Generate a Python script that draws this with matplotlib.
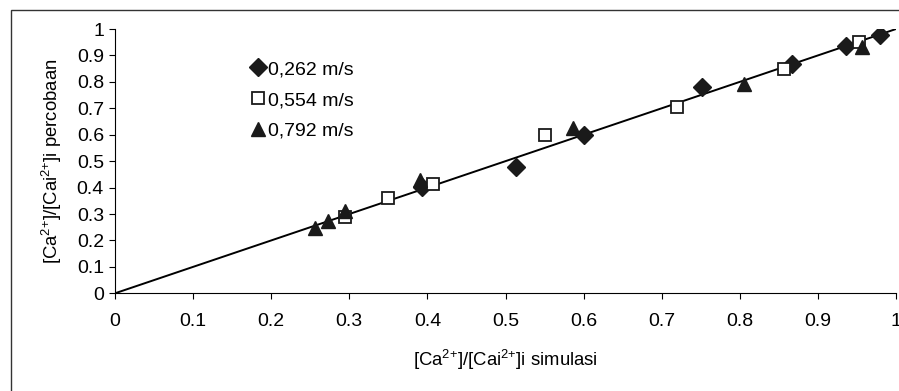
import numpy as np
import matplotlib
matplotlib.use("Agg")
import matplotlib.pyplot as plt
from matplotlib.patches import Rectangle

plt.rcParams['font.family'] = ['Liberation Sans', 'DejaVu Sans']
plt.rcParams['mathtext.fontset'] = 'custom'
plt.rcParams['mathtext.rm'] = 'Liberation Sans'

# data
x_262 = [0.393, 0.513, 0.600, 0.751, 0.867, 0.936, 0.979]
y_262 = [0.403, 0.479, 0.599, 0.779, 0.868, 0.936, 0.977]

x_554 = [0.294, 0.350, 0.407, 0.551, 0.720, 0.857, 0.952]
y_554 = [0.288, 0.359, 0.412, 0.599, 0.706, 0.849, 0.952]

x_792 = [0.256, 0.273, 0.295, 0.390, 0.586, 0.806, 0.956]
y_792 = [0.246, 0.274, 0.311, 0.429, 0.624, 0.792, 0.933]

labels = ['0,262 m/s', '0,554 m/s', '0,792 m/s']
ticks = np.arange(0, 1.01, 0.1)
tick_labels = ['0', '0.1', '0.2', '0.3', '0.4', '0.5', '0.6', '0.7', '0.8', '0.9', '1']

fig = plt.figure(figsize=(8.99, 3.91), dpi=100)
# outer chart frame (cropped on right and bottom)
fig.patches.append(Rectangle((11 / 899, -0.1), 1.2, 1 - 10 / 391 + 0.1,
                             transform=fig.transFigure, fill=False,
                             edgecolor='#333333', linewidth=1))

ax = fig.add_axes([115 / 899, 1 - 293.3 / 391, 781 / 899, 264.3 / 391])

ax.plot([0, 1], [0, 1], '-k', linewidth=1.4, zorder=2)
ax.plot(x_262, y_262, 'D', color='#1a1a1a', markersize=9, linestyle='none',
        label=labels[0], zorder=3)
ax.plot(x_554, y_554, 's', markerfacecolor='white', markeredgecolor='#1a1a1a',
        markeredgewidth=1.3, markersize=9, linestyle='none', label=labels[1], zorder=3)
ax.plot(x_792, y_792, '^', color='#1a1a1a', markersize=10.5, linestyle='none',
        label=labels[2], zorder=3)

ax.set_xlim(0, 1)
ax.set_ylim(0, 1)
ax.set_xticks(ticks)
ax.set_xticklabels(tick_labels)
ax.set_yticks(ticks)
ax.set_yticklabels(tick_labels)
ax.spines['top'].set_visible(False)
ax.spines['right'].set_visible(False)
ax.tick_params(axis='both', direction='out', length=4, width=0.8, labelsize=14)
ax.tick_params(axis='x', pad=10)
ax.tick_params(axis='y', pad=4)
ax.patch.set_alpha(0)

sup = r'$^{\text{2+}}$'
ax.set_xlabel('[Ca' + sup + ']/[Cai' + sup + ']i simulasi', fontsize=13.3, labelpad=13)
ax.set_ylabel('[Ca' + sup + ']/[Cai' + sup + ']i percobaan', fontsize=13.3, labelpad=9)

ax.legend(loc='upper left', bbox_to_anchor=(0.165, 0.91), frameon=False, fontsize=14,
          handlelength=0.7, handletextpad=0.15, labelspacing=0.68, borderaxespad=0)

fig.savefig('out.png', dpi=100)
